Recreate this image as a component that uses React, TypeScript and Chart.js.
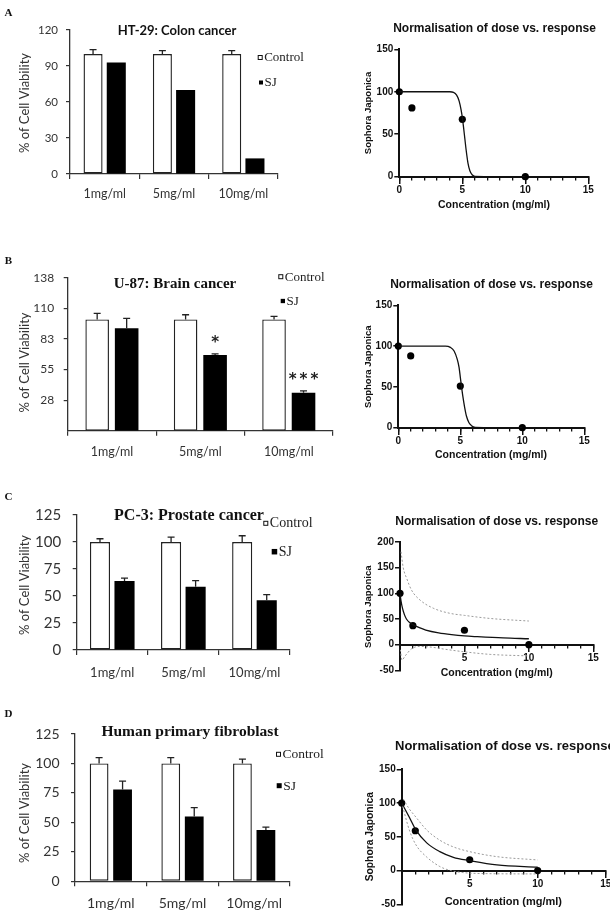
import { useEffect, useRef } from 'react';
import { Chart, registerables } from 'chart.js';

Chart.register(...registerables);

// ---------- cell viability (bar charts) ----------
const doseLabels = ['1mg/ml', '5mg/ml', '10mg/ml'];

const colonControl = [100, 100, 100];
const colonControlErr = [3.7, 2.8, 2.8];
const colonSJ = [93, 70, 13];
const colonTickValues = [0, 30, 60, 90, 120];
const colonTickLabels = ['0', '30', '60', '90', '120'];

const brainControl = [100, 100, 100];
const brainControlErr = [5.4, 4.2, 2.8];
const brainSJ = [92, 68, 34];
const brainSJErr = [9, 1, 1.8];
const brainStars = ['', '*', '***'];
const brainTickValues = [27.5, 55, 82.5, 110, 137.5];
const brainTickLabels = ['28', '55', '83', '110', '138'];

const prostateControl = [100, 100, 100];
const prostateControlErr = [3, 4.6, 5.8];
const prostateSJ = [64, 58.5, 46];
const prostateSJErr = [2.5, 5.8, 5.2];

const fibroControl = [100, 100, 100];
const fibroControlErr = [5, 5, 3.7];
const fibroSJ = [78, 55, 43.5];
const fibroSJErr = [7, 7.5, 2.5];

const pctTickValues = [0, 25, 50, 75, 100, 125];
const pctTickLabels = ['0', '25', '50', '75', '100', '125'];

// ---------- normalised dose vs. response ----------
const doseConc = [0, 1, 5, 10];
const colonResponse = [100, 81, 67.5, 0];
const brainResponse = [100, 88, 51, 0];
const prostateResponse = [100, 37, 28, 0];
const fibroResponse = [100, 59, 16, 0];

const colonFitX = [0, 4.0, 4.3, 4.55, 4.75, 4.9, 5.0, 5.1, 5.2, 5.3, 5.45, 5.6, 5.8, 6.0, 10];
const colonFitY = [100, 100, 99.3, 96, 89, 79, 70, 58, 45, 32, 16, 7, 2, 0.4, 0];

const brainFitX = [0, 3.8, 4.2, 4.5, 4.75, 4.9, 5.0, 5.1, 5.2, 5.35, 5.5, 5.7, 5.9, 6.2, 10];
const brainFitY = [100, 100, 98.5, 94, 84, 74, 62, 50, 39, 25, 14, 6, 2.5, 0.5, 0];

const prostateFitX = [0, 0.08, 0.2, 0.35, 0.5, 0.75, 1, 1.5, 2, 3, 4, 5, 6, 8, 10];
const prostateFitY = [100, 85, 70, 58, 50, 43, 39, 33, 28.5, 23, 19.5, 17, 15.5, 13, 11.5];
const prostateUpperX = [0.08, 0.25, 0.52, 0.9, 1.55, 2.58, 3.88, 5, 7, 10];
const prostateUpperY = [181, 150, 129, 106, 87, 71, 61, 57, 51, 46];
const prostateLowerX = [0.03, 0.15, 0.4, 0.9, 1.5, 2.3, 3.5, 5, 7, 10];
const prostateLowerY = [-10, -30, -22, -8, -3.5, -4.5, -9, -14, -19, -22];

const fibroFitX = [0, 0.56, 1.05, 1.84, 2.8, 3.8, 5, 7, 10];
const fibroFitY = [100, 79, 60, 41, 28, 19.6, 14.7, 8.3, 5];
const fibroUpperX = [0.12, 0.5, 1.05, 1.84, 2.8, 3.8, 5, 7, 10];
const fibroUpperY = [106, 93, 79, 60, 45, 35, 28, 20.6, 15.7];
const fibroLowerX = [0.07, 0.56, 1.05, 1.84, 2.8, 3.6, 4.5, 6, 10];
const fibroLowerY = [95, 60, 38, 20, 6, 0, -3, -4.5, -5];

const concTickValues = [0, 5, 10, 15];
const concTickLabels = ['0', '5', '10', '15'];
const concTickLabelsNoZero = ['', '5', '10', '15'];
const concMinorTicks = [0, 1, 2, 3, 4, 5, 6, 7, 8, 9, 10, 11, 12, 13, 14, 15];
const respTicksPos = [0, 50, 100, 150];
const respTicksWide = [-50, 0, 50, 100, 150, 200];
const respTicksNeg = [-50, 0, 50, 100, 150];

// ---------- drawing helpers ----------
const INK = '#333';
const BLACK = '#111';

type Rect = { x: number; y: number; w: number; h: number };
type Area = { l: number; t: number; r: number; b: number };
type Label = { text: string; x: number; y: number; font: string; color?: string; align?: CanvasTextAlign; vertical?: boolean };
type Key = { text: string; x: number; y: number; filled: boolean; size: number; font: string };

const decorPlugin = {
  id: 'decor',
  afterDraw(chart: any, _args: any, opts: any) {
    const ctx: CanvasRenderingContext2D = chart.ctx;
    const ox = opts.origin?.x ?? 0;
    const oy = opts.origin?.y ?? 0;
    ctx.save();
    ctx.textBaseline = 'middle';
    for (const t of (opts.labels ?? []) as Label[]) {
      ctx.save();
      ctx.font = t.font;
      ctx.fillStyle = t.color ?? INK;
      ctx.textAlign = t.align ?? 'center';
      ctx.translate(t.x - ox, t.y - oy);
      if (t.vertical) ctx.rotate(-Math.PI / 2);
      ctx.fillText(t.text, 0, 0);
      ctx.restore();
    }
    for (const k of (opts.keys ?? []) as Key[]) {
      const x = k.x - ox;
      const y = k.y - oy;
      if (k.filled) {
        ctx.fillStyle = '#000';
        ctx.fillRect(x, y - k.size / 2, k.size, k.size);
      } else {
        ctx.strokeStyle = BLACK;
        ctx.lineWidth = 1;
        ctx.strokeRect(x + 0.5, y - k.size / 2 + 0.5, k.size - 1, k.size - 1);
      }
      ctx.font = k.font;
      ctx.fillStyle = '#222';
      ctx.textAlign = 'left';
      ctx.fillText(k.text, x + k.size + 1.5, y + 0.5);
    }
    ctx.restore();
  },
};

const errorBarPlugin = {
  id: 'errorBars',
  afterDatasetsDraw(chart: any, _args: any, opts: any) {
    const ctx: CanvasRenderingContext2D = chart.ctx;
    const yScale = chart.scales.y;
    const cap = opts.cap ?? 7;
    ctx.save();
    chart.data.datasets.forEach((ds: any, di: number) => {
      const errs: number[] | undefined = ds.errorBars;
      if (!errs) return;
      const meta = chart.getDatasetMeta(di);
      meta.data.forEach((bar: any, j: number) => {
        const top = yScale.getPixelForValue(ds.data[j] + errs[j]);
        ctx.strokeStyle = '#222';
        ctx.lineWidth = 1.3;
        ctx.beginPath();
        ctx.moveTo(bar.x, bar.y);
        ctx.lineTo(bar.x, top);
        ctx.moveTo(bar.x - cap / 2, top);
        ctx.lineTo(bar.x + cap / 2, top);
        ctx.stroke();
        const mark = ds.significance?.[j];
        if (mark) {
          ctx.fillStyle = '#222';
          ctx.font = opts.starFont ?? 'bold 15px "DejaVu Sans"';
          ctx.textAlign = 'center';
          ctx.textBaseline = 'middle';
          (ctx as any).letterSpacing = '3px';
          ctx.fillText(mark, bar.x + 1.5, top - (opts.starGap ?? 11));
          (ctx as any).letterSpacing = '0px';
        }
      });
    });
    ctx.restore();
  },
};

type BarSpec = {
  box: Rect;
  area: Area;
  control: number[];
  controlErr: number[];
  sj: number[];
  sjErr?: number[];
  stars?: string[];
  yMax: number;
  yTicks: number[];
  yLabels: string[];
  tickFont: number;
  xFont: number;
  yPad: number;
  xPad: number;
  catPct: number;
  barPct: number;
  labels: Label[];
  keys: Key[];
};

function barConfig(s: BarSpec): any {
  const { box, area } = s;
  const common = { categoryPercentage: s.catPct, barPercentage: s.barPct };
  return {
    type: 'bar',
    data: {
      labels: doseLabels,
      datasets: [
        {
          label: 'Control',
          data: s.control,
          errorBars: s.controlErr,
          backgroundColor: '#ffffff',
          borderColor: '#222',
          borderWidth: 1.4,
          borderSkipped: false,
          ...common,
        },
        {
          label: 'SJ',
          data: s.sj,
          errorBars: s.sjErr,
          significance: s.stars,
          backgroundColor: '#000000',
          borderWidth: 0,
          ...common,
        },
      ],
    },
    options: {
      animation: false,
      responsive: false,
      events: [],
      layout: { padding: { left: 0, top: area.t - box.y, right: box.x + box.w - area.r, bottom: 0 } },
      plugins: {
        legend: { display: false },
        tooltip: { enabled: false },
        decor: { origin: { x: box.x, y: box.y }, labels: s.labels, keys: s.keys },
        errorBars: { cap: 7 },
      },
      scales: {
        x: {
          grid: { drawOnChartArea: false, color: INK, lineWidth: 1.2, tickLength: 5 },
          border: { color: INK, width: 1.3 },
          ticks: { color: INK, font: { family: 'Lato', size: s.xFont }, padding: s.xPad, maxRotation: 0 },
          afterFit: (sc: any) => {
            sc.height = box.y + box.h - area.b;
          },
        },
        y: {
          min: 0,
          max: s.yMax,
          afterBuildTicks: (sc: any) => {
            sc.ticks = s.yTicks.map((v) => ({ value: v }));
          },
          ticks: {
            color: INK,
            font: { family: 'Lato', size: s.tickFont },
            padding: s.yPad,
            callback: (_v: any, i: number) => s.yLabels[i],
          },
          grid: { drawOnChartArea: false, color: INK, lineWidth: 1.2, tickLength: 4 },
          border: { color: INK, width: 1.3 },
          afterFit: (sc: any) => {
            sc.width = area.l - box.x;
          },
        },
      },
    },
    plugins: [errorBarPlugin, decorPlugin],
  };
}

type DoseSpec = {
  box: Rect;
  area: Area;
  response: number[];
  fitX: number[];
  fitY: number[];
  upperX?: number[];
  upperY?: number[];
  lowerX?: number[];
  lowerY?: number[];
  yMin: number;
  yMax: number;
  yTicks: number[];
  xLabels: string[];
  labels: Label[];
};

const pts = (xs: number[], ys: number[]) => xs.map((x, i) => ({ x, y: ys[i] }));

function doseConfig(s: DoseSpec): any {
  const { box, area } = s;
  const band = (xs: number[], ys: number[]) => ({
    data: pts(xs, ys),
    borderColor: '#9a9a9a',
    borderWidth: 1,
    borderDash: [2, 2],
    pointRadius: 0,
    cubicInterpolationMode: 'monotone',
    fill: false,
  });
  const datasets: any[] = [];
  if (s.upperX && s.upperY) datasets.push(band(s.upperX, s.upperY));
  if (s.lowerX && s.lowerY) datasets.push(band(s.lowerX, s.lowerY));
  datasets.push({
    data: pts(s.fitX, s.fitY),
    borderColor: '#111',
    borderWidth: 1.3,
    pointRadius: 0,
    cubicInterpolationMode: 'monotone',
    fill: false,
  });
  datasets.push({
    data: pts(doseConc, s.response),
    showLine: false,
    pointRadius: 3.6,
    pointBackgroundColor: '#000',
    pointBorderWidth: 0,
    clip: false,
  });
  const tickFont = { family: '"Liberation Sans", Arial, sans-serif', size: 10, weight: 'bold' as const };
  return {
    type: 'line',
    data: { datasets },
    options: {
      animation: false,
      responsive: false,
      events: [],
      layout: {
        padding: { left: 0, top: area.t - box.y, right: box.x + box.w - area.r, bottom: box.y + box.h - area.b },
      },
      plugins: {
        legend: { display: false },
        tooltip: { enabled: false },
        decor: { origin: { x: box.x, y: box.y }, labels: s.labels },
      },
      scales: {
        x: {
          type: 'linear',
          min: 0,
          max: 15,
          position: { y: 0 },
          afterBuildTicks: (sc: any) => {
            sc.ticks = concTickValues.map((v) => ({ value: v }));
          },
          ticks: {
            color: BLACK,
            font: tickFont,
            padding: 1.5,
            autoSkip: false,
            maxRotation: 0,
            callback: (_v: any, i: number) => s.xLabels[i],
          },
          grid: { drawOnChartArea: false, color: BLACK, lineWidth: 1.5, tickLength: 6 },
          border: { color: BLACK, width: 2 },
        },
        xMinor: {
          type: 'linear',
          axis: 'x',
          min: 0,
          max: 15,
          position: { y: 0 },
          afterBuildTicks: (sc: any) => {
            sc.ticks = concMinorTicks.map((v) => ({ value: v }));
          },
          ticks: { autoSkip: false, maxRotation: 0, callback: () => '' },
          grid: { drawOnChartArea: false, color: BLACK, lineWidth: 1.3, tickLength: 3.5 },
          border: { display: false },
        },
        y: {
          min: s.yMin,
          max: s.yMax,
          afterBuildTicks: (sc: any) => {
            sc.ticks = s.yTicks.map((v) => ({ value: v }));
          },
          ticks: { color: BLACK, font: tickFont, padding: 1 },
          grid: { drawOnChartArea: false, color: BLACK, lineWidth: 1.5, tickLength: 5 },
          border: { color: BLACK, width: 2 },
          afterFit: (sc: any) => {
            sc.width = area.l - box.x;
          },
        },
      },
    },
    plugins: [decorPlugin],
  };
}

function ChartCanvas({ box, config }: { box: Rect; config: () => any }) {
  const ref = useRef<HTMLCanvasElement>(null);
  useEffect(() => {
    const chart = new Chart(ref.current as HTMLCanvasElement, config());
    return () => chart.destroy();
  }, []);
  return (
    <canvas
      ref={ref}
      width={box.w}
      height={box.h}
      style={{ position: 'absolute', left: box.x, top: box.y, width: box.w, height: box.h }}
    />
  );
}

// ---------- panel layout ----------
const SERIF = '"Liberation Serif", "Times New Roman", serif';
const ARIAL = '"Liberation Sans", Arial, sans-serif';
const yTitle = (y: number): Label => ({ text: '% of Cell Viability', x: 25, y, font: '13px Lato', vertical: true });
const letter = (text: string, y: number): Label => ({ text, x: 8.5, y, font: `bold 11px ${SERIF}`, color: '#111' });
const keys = (cx: number, cy: number, sx: number, sy: number, font: string, size: number, fsize: number): Key[] => [
  { text: 'Control', x: cx, y: cy, filled: false, size, font },
  { text: 'SJ', x: sx, y: sy, filled: true, size: fsize, font },
];
const doseTitle = (x: number, y: number, size = 12, align: CanvasTextAlign = 'center'): Label => ({
  text: 'Normalisation of dose vs. response', x, y, font: `bold ${size}px ${ARIAL}`, color: BLACK, align,
});
const sophora = (x: number, y: number, size = 9.5): Label => ({
  text: 'Sophora Japonica', x, y, font: `bold ${size}px ${ARIAL}`, color: BLACK, vertical: true,
});
const concTitle = (x: number, y: number, size = 10.5): Label => ({
  text: 'Concentration (mg/ml)', x, y, font: `bold ${size}px ${ARIAL}`, color: BLACK,
});

const boxA: Rect = { x: 0, y: 0, w: 340, h: 230 };
const boxB: Rect = { x: 0, y: 235, w: 340, h: 240 };
const boxC: Rect = { x: 0, y: 480, w: 340, h: 225 };
const boxD: Rect = { x: 0, y: 705, w: 340, h: 207 };
const boxA2: Rect = { x: 340, y: 0, w: 270, h: 230 };
const boxB2: Rect = { x: 340, y: 235, w: 270, h: 240 };
const boxC2: Rect = { x: 340, y: 480, w: 270, h: 225 };
const boxD2: Rect = { x: 340, y: 705, w: 310, h: 207 };

const panels: { box: Rect; config: () => any }[] = [
  {
    box: boxA,
    config: () =>
      barConfig({
        box: boxA,
        area: { l: 70, t: 30, r: 278, b: 174 },
        control: colonControl,
        controlErr: colonControlErr,
        sj: colonSJ,
        yMax: 120,
        yTicks: colonTickValues,
        yLabels: colonTickLabels,
        tickFont: 11.5,
        xFont: 12.5,
        yPad: 8,
        xPad: 7.5,
        catPct: 0.67,
        barPct: 0.82,
        labels: [
          letter('A', 13.5),
          { text: 'HT-29: Colon cancer', x: 177, y: 30.5, font: 'bold 13px Lato', color: '#111' },
          yTitle(103),
        ],
        keys: keys(257.7, 57.5, 259, 82.5, `13px ${SERIF}`, 5, 4),
      }),
  },
  {
    box: boxA2,
    config: () =>
      doseConfig({
        box: boxA2,
        area: { l: 399.3, t: 49.3, r: 588.3, b: 176.7 },
        response: colonResponse,
        fitX: colonFitX,
        fitY: colonFitY,
        yMin: 0,
        yMax: 150,
        yTicks: respTicksPos,
        xLabels: concTickLabels,
        labels: [doseTitle(494.5, 28.5), sophora(368, 113), concTitle(494, 205)],
      }),
  },
  {
    box: boxB,
    config: () =>
      barConfig({
        box: boxB,
        area: { l: 67.7, t: 277.7, r: 333, b: 430.7 },
        control: brainControl,
        controlErr: brainControlErr,
        sj: brainSJ,
        sjErr: brainSJErr,
        stars: brainStars,
        yMax: 137.5,
        yTicks: brainTickValues,
        yLabels: brainTickLabels,
        tickFont: 12,
        xFont: 12.5,
        yPad: 9.5,
        xPad: 8.5,
        catPct: 0.667,
        barPct: 0.8,
        labels: [
          letter('B', 261),
          { text: 'U-87: Brain cancer', x: 175, y: 284.5, font: `bold 15px ${SERIF}`, color: '#111' },
          yTitle(362.5),
        ],
        keys: keys(278.3, 276.7, 280.7, 301, `13px ${SERIF}`, 5, 4.3),
      }),
  },
  {
    box: boxB2,
    config: () =>
      doseConfig({
        box: boxB2,
        area: { l: 398.3, t: 305.3, r: 584.3, b: 427.7 },
        response: brainResponse,
        fitX: brainFitX,
        fitY: brainFitY,
        yMin: 0,
        yMax: 150,
        yTicks: respTicksPos,
        xLabels: concTickLabels,
        labels: [doseTitle(491.5, 285), sophora(368.3, 366.7), concTitle(491, 455)],
      }),
  },
  {
    box: boxC,
    config: () =>
      barConfig({
        box: boxC,
        area: { l: 76.7, t: 515, r: 290, b: 650 },
        control: prostateControl,
        controlErr: prostateControlErr,
        sj: prostateSJ,
        sjErr: prostateSJErr,
        yMax: 125,
        yTicks: pctTickValues,
        yLabels: pctTickLabels,
        tickFont: 15,
        xFont: 13,
        yPad: 11.5,
        xPad: 10.5,
        catPct: 0.69,
        barPct: 0.82,
        labels: [
          letter('C', 497),
          { text: 'PC-3: Prostate cancer', x: 189, y: 516, font: `bold 16px ${SERIF}`, color: '#111' },
          yTitle(585),
        ],
        keys: keys(263.3, 523.3, 271.7, 551.7, `14px ${SERIF}`, 5, 5.5),
      }),
  },
  {
    box: boxC2,
    config: () =>
      doseConfig({
        box: boxC2,
        area: { l: 400, t: 542, r: 593.3, b: 670.3 },
        response: prostateResponse,
        fitX: prostateFitX,
        fitY: prostateFitY,
        upperX: prostateUpperX,
        upperY: prostateUpperY,
        lowerX: prostateLowerX,
        lowerY: prostateLowerY,
        yMin: -50,
        yMax: 200,
        yTicks: respTicksWide,
        xLabels: concTickLabelsNoZero,
        labels: [doseTitle(496.7, 521.7), sophora(368, 606.7), concTitle(496.7, 673.3)],
      }),
  },
  {
    box: boxD,
    config: () =>
      barConfig({
        box: boxD,
        area: { l: 75, t: 734, r: 290, b: 881.3 },
        control: fibroControl,
        controlErr: fibroControlErr,
        sj: fibroSJ,
        sjErr: fibroSJErr,
        yMax: 125,
        yTicks: pctTickValues,
        yLabels: pctTickLabels,
        tickFont: 14,
        xFont: 14,
        yPad: 11.5,
        xPad: 8.5,
        catPct: 0.655,
        barPct: 0.8,
        labels: [
          letter('D', 714),
          { text: 'Human primary fibroblast', x: 190, y: 731.7, font: `bold 15.5px ${SERIF}`, color: '#111' },
          yTitle(813),
        ],
        keys: keys(276, 754.3, 276.7, 785.7, `13.5px ${SERIF}`, 5, 5),
      }),
  },
  {
    box: boxD2,
    config: () =>
      doseConfig({
        box: boxD2,
        area: { l: 401.7, t: 769.3, r: 605.7, b: 904.3 },
        response: fibroResponse,
        fitX: fibroFitX,
        fitY: fibroFitY,
        upperX: fibroUpperX,
        upperY: fibroUpperY,
        lowerX: fibroLowerX,
        lowerY: fibroLowerY,
        yMin: -50,
        yMax: 150,
        yTicks: respTicksNeg,
        xLabels: concTickLabelsNoZero,
        labels: [doseTitle(395, 746.7, 13, 'left'), sophora(370, 836.7, 10.3), concTitle(503.3, 901.7, 11)],
      }),
  },
];

export default function App() {
  return (
    <div
      style={{
        position: 'absolute',
        left: 0,
        top: 0,
        width: 610,
        height: 912,
        overflow: 'hidden',
        background: '#ffffff',
      }}
    >
      {panels.map((p, i) => (
        <ChartCanvas key={i} box={p.box} config={p.config} />
      ))}
    </div>
  );
}
